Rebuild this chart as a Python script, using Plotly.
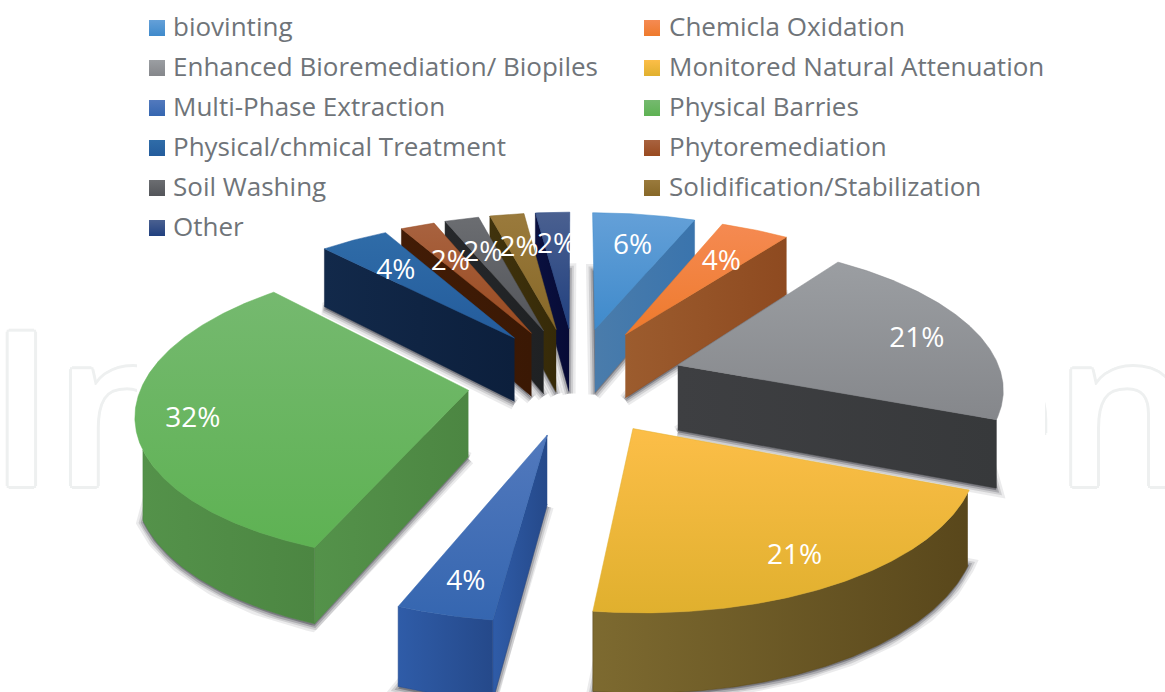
import numpy as np
import plotly.graph_objects as go

# ---- data ----
categories = ["biovinting", "Chemicla Oxidation", "Enhanced Bioremediation/ Biopiles",
              "Monitored Natural Attenuation", "Multi-Phase Extraction", "Physical Barries",
              "Physical/chmical Treatment", "Phytoremediation", "Soil Washing",
              "Solidification/Stabilization", "Other"]
shares = [6, 4, 21, 21, 4, 32, 4, 2, 2, 2, 2]
top_light = ["#64a0d8", "#f58a52", "#9b9ea2", "#fcbe48", "#5279bd", "#75b96f",
             "#2f6ca8", "#a8623f", "#6b6d71", "#9a7a3c", "#4a6090"]
top_dark = ["#3f8acb", "#ee7a2c", "#85878b", "#e0b02e", "#3566b0", "#5eb253",
            "#245c9c", "#994a20", "#53555a", "#876828", "#21407f"]
wall_light = ["#4a7cab", "#9c5c2e", "#3e3f42", "#7d6a30", "#2f5ca8", "#54924a",
              "#12294a", "#421c06", "#26282b", "#40330d", "#0a103f"]
wall_dark = ["#3a74ad", "#8e4a20", "#37393b", "#59471b", "#25498a", "#4c8642",
             "#0c1f3c", "#3a1804", "#1f2123", "#362a08", "#070b36"]
watermark_left = "In"
watermark_right = "en"

# ---- projection of the exploded, tilted pie ----
W, H = 1165, 692
CX, CY = 575.5, 380
EX, EY = 108, 54      # explosion, screen units
RX, RY = 325, 145     # pie radius, screen units
PERSP = 0.00093
DEPTH = 66
LABEL_FRACS = [0.745, 0.72, 0.81, 0.81, 0.815, 0.83, 0.72, 0.69, 0.72, 0.73, 0.74]
FONT = "Open Sans"


def project(theta, frac, mid):
    """theta, mid in radians clockwise from 12 o'clock; frac of radius."""
    gx = EX * np.sin(mid) + RX * frac * np.sin(theta)
    gy = EY * np.cos(mid) + RY * frac * np.cos(theta)
    s = 1 / (1 + PERSP * gy)
    return CX + gx * s, CY - gy * s, s


fig = go.Figure()

# faint outlined watermark behind the chart
outline = ",".join(f"{dx}px {dy}px 0 #eef0f0" for dx, dy in
                   [(-2, -2), (2, -2), (-2, 2), (2, 2), (0, -3), (0, 3), (-3, 0), (3, 0)])
fig.add_trace(go.Scatter(x=[90, 930], y=[432, 432], mode="text",
                         text=[watermark_left, watermark_right],
                         textposition=["middle center", "middle right"],
                         textfont=dict(family=FONT, size=216, color="#ffffff", weight=600, shadow=outline),
                         cliponaxis=False, showlegend=False, hoverinfo="skip"))
fig.add_trace(go.Scatter(x=[137, 1045, 1045, 137], y=[240, 240, 560, 560], fill="toself",
                         mode="none", fillcolor="#ffffff", showlegend=False, hoverinfo="skip"))

edges = np.cumsum([0] + shares) / sum(shares) * 2 * np.pi
wedges = []
for i, name in enumerate(categories):
    a0, a1 = edges[i], edges[i + 1]
    mid = (a0 + a1) / 2
    th = np.linspace(a0, a1, max(6, int(np.degrees(a1 - a0)) * 2))
    ox, oy, os_ = project(th, 1.0, mid)
    ax, ay, as_ = project(mid, 0.0, mid)
    wedges.append(dict(i=i, name=name, a0=a0, a1=a1, mid=mid, th=th, ox=ox, oy=oy, os=os_,
                       ax=float(ax), ay=float(ay), as_=float(as_)))

# soft ground shadows: the bottom face of each slice, widened by translucent outlines
for w in wedges:
    c = np.cos(w["th"])
    keep = (c < -0.38) | (c > 0.3)
    keep[0] = keep[-1] = True
    sx = list(w["ox"][keep])
    sy = list((w["oy"] + DEPTH * w["os"] + 2)[keep])
    ay0 = w["ay"] + DEPTH * w["as_"] + 2
    bx, by = [w["ax"]] + sx + [w["ax"]], [ay0] + sy + [ay0]
    for width, alpha in [(13, 0.10), (8, 0.16), (4, 0.25)]:
        fig.add_trace(go.Scatter(x=bx, y=by, mode="lines", fill="toself",
                                 fillcolor=f"rgba(60,60,70,{alpha})",
                                 line=dict(color=f"rgba(60,60,70,{alpha})", width=width),
                                 showlegend=False, hoverinfo="skip"))


def add_wall(x, y, i, name):
    fig.add_trace(go.Scatter(x=x, y=y, mode="lines", fill="toself", line=dict(width=0.5, color=wall_dark[i]),
                             fillgradient=dict(type="horizontal",
                                               colorscale=[[0, wall_light[i]], [1, wall_dark[i]]]),
                             showlegend=False, name=name, hoverinfo="skip"))


# painter's order: far slices first
for w in sorted(wedges, key=lambda q: -EY * np.cos(q["mid"])):
    i = w["i"]
    # radial walls that face the viewer
    for edge, facing in ((0, np.sin(w["a0"]) < 0), (-1, np.sin(w["a1"]) > 0)):
        if facing:
            px, py, ps = w["ox"][edge], w["oy"][edge], w["os"][edge]
            add_wall([w["ax"], px, px, w["ax"]],
                     [w["ay"], py, py + DEPTH * ps, w["ay"] + DEPTH * w["as_"]], i, w["name"])
    # outer curved wall where it faces the viewer
    vis = np.cos(w["th"]) < -0.38
    if vis.sum() > 1:
        vx, vy, vs = w["ox"][vis], w["oy"][vis], w["os"][vis]
        add_wall(list(vx) + list(vx[::-1]), list(vy) + list((vy + DEPTH * vs)[::-1]), i, w["name"])
    # top face
    fig.add_trace(go.Scatter(x=[w["ax"]] + list(w["ox"]) + [w["ax"]],
                             y=[w["ay"]] + list(w["oy"]) + [w["ay"]],
                             mode="lines", fill="toself", line=dict(width=0.5, color=top_dark[i]),
                             fillgradient=dict(type="vertical",
                                               colorscale=[[0, top_dark[i]], [1, top_light[i]]]),
                             showlegend=False, name=w["name"], hoverinfo="skip"))

# percentage labels
lx, ly = [], []
for w in wedges:
    x, y, _ = project(w["mid"], LABEL_FRACS[w["i"]], w["mid"])
    lx.append(float(x))
    ly.append(float(y) + 6)
fig.add_trace(go.Scatter(x=lx, y=ly, mode="text", text=[f"{v}%" for v in shares],
                         textposition="middle center",
                         textfont=dict(family=FONT, size=28, color="#ffffff"),
                         showlegend=False, hoverinfo="skip"))

# two-column legend
col = [n % 2 for n in range(len(categories))]
row = [n // 2 for n in range(len(categories))]
fig.add_trace(go.Scatter(x=[157 + 495 * c for c in col], y=[28 + 40 * r for r in row], mode="markers",
                         marker=dict(symbol="square", size=16, color=top_light,
                                     gradient=dict(type="vertical", color=top_dark), line=dict(width=0)),
                         showlegend=False, hoverinfo="skip"))
fig.add_trace(go.Scatter(x=[173 + 496 * c for c in col], y=[29.5 + 40 * r for r in row], mode="text",
                         text=categories, textposition="middle right",
                         textfont=dict(family=FONT, size=26, color="#6f7479"),
                         showlegend=False, hoverinfo="skip", cliponaxis=False))

fig.update_layout(width=W, height=H, margin=dict(l=0, r=0, t=0, b=0), showlegend=False,
                  paper_bgcolor="#ffffff", plot_bgcolor="#ffffff",
                  xaxis=dict(range=[0, W], visible=False, fixedrange=True),
                  yaxis=dict(range=[H, 0], visible=False, fixedrange=True))
fig.write_html("out.html", config={"displayModeBar": False},
               post_script="document.body.style.margin='0';document.documentElement.style.overflow='hidden';")
